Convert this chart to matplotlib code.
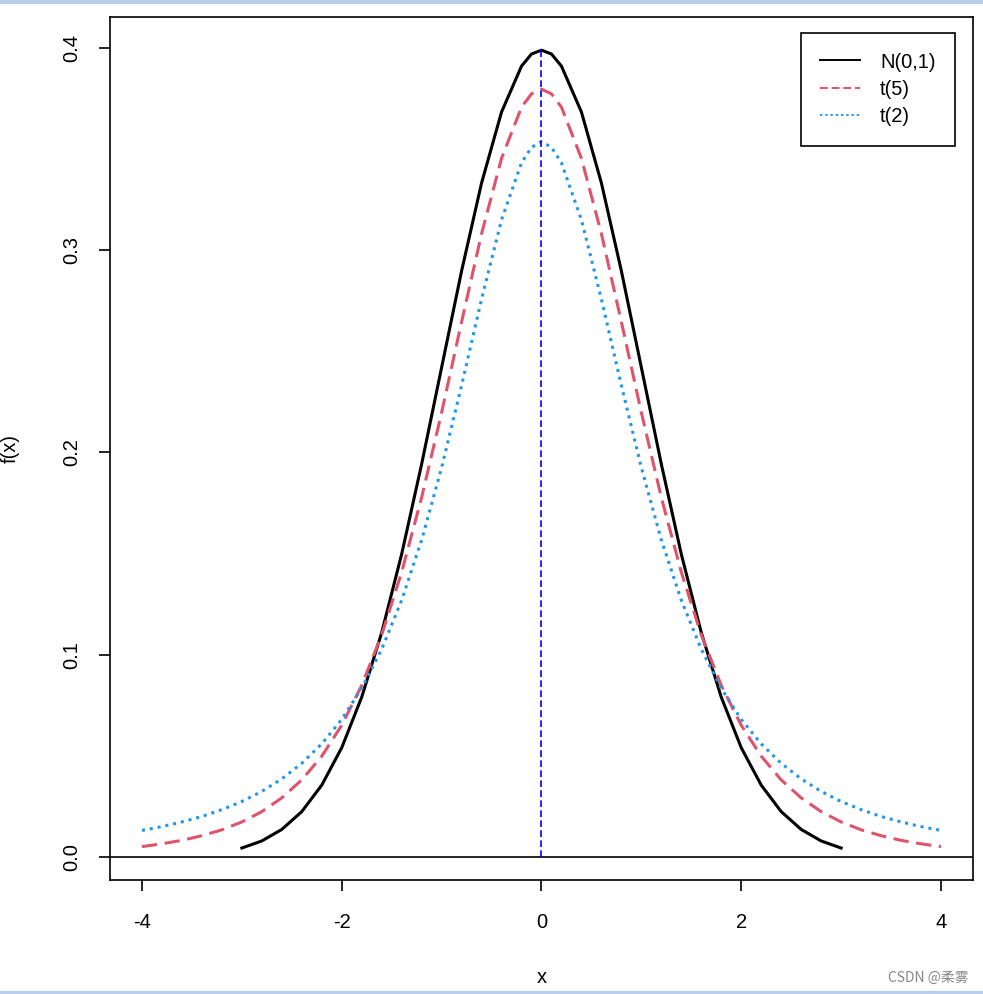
import numpy as np
import matplotlib.pyplot as plt
from matplotlib.lines import Line2D

plt.rcParams['font.family'] = ['Liberation Sans', 'DejaVu Sans']

# density values
x_norm = [-3.0, -2.8, -2.6, -2.4, -2.2, -2.0, -1.8, -1.6, -1.4, -1.2, -1.0, -0.8, -0.6, -0.4, -0.2, -0.1,
          0.0, 0.1, 0.2, 0.4, 0.6, 0.8, 1.0, 1.2, 1.4, 1.6, 1.8, 2.0, 2.2, 2.4, 2.6, 2.8, 3.0]
y_norm = [0.0044, 0.0079, 0.0136, 0.0224, 0.0355, 0.0540, 0.0790, 0.1109, 0.1497, 0.1942, 0.2420,
          0.2897, 0.3332, 0.3683, 0.3910, 0.3970, 0.3989, 0.3970, 0.3910, 0.3683, 0.3332, 0.2897,
          0.2420, 0.1942, 0.1497, 0.1109, 0.0790, 0.0540, 0.0355, 0.0224, 0.0136, 0.0079, 0.0044]

x_t = [-4.0, -3.8, -3.6, -3.4, -3.2, -3.0, -2.8, -2.6, -2.4, -2.2, -2.0, -1.8, -1.6, -1.4, -1.2,
       -1.0, -0.8, -0.6, -0.4, -0.2, -0.1, 0.0, 0.1, 0.2, 0.4, 0.6, 0.8, 1.0, 1.2, 1.4, 1.6, 1.8, 2.0,
       2.2, 2.4, 2.6, 2.8, 3.0, 3.2, 3.4, 3.6, 3.8, 4.0]
y_t5 = [0.0051, 0.0065, 0.0082, 0.0105, 0.0134, 0.0173, 0.0224, 0.0292, 0.0381, 0.0498, 0.0651,
        0.0848, 0.1098, 0.1408, 0.1777, 0.2197, 0.2645, 0.3081, 0.3454, 0.3707, 0.3773, 0.3796,
        0.3773, 0.3707, 0.3454, 0.3081, 0.2645, 0.2197, 0.1777, 0.1408, 0.1098, 0.0848, 0.0651,
        0.0498, 0.0381, 0.0292, 0.0224, 0.0173, 0.0134, 0.0105, 0.0082, 0.0065, 0.0051]
y_t2 = [0.0131, 0.0150, 0.0173, 0.0200, 0.0234, 0.0274, 0.0324, 0.0386, 0.0463, 0.0559, 0.0680,
        0.0834, 0.1027, 0.1269, 0.1567, 0.1925, 0.2331, 0.2758, 0.3150, 0.3432, 0.3509, 0.3536,
        0.3509, 0.3432, 0.3150, 0.2758, 0.2331, 0.1925, 0.1567, 0.1269, 0.1027, 0.0834, 0.0680,
        0.0559, 0.0463, 0.0386, 0.0324, 0.0274, 0.0234, 0.0200, 0.0173, 0.0150, 0.0131]

labels = ["N(0,1)", "t(5)", "t(2)"]
colors = ["black", "#DF536B", "#2297E6"]

fig = plt.figure(figsize=(9.83, 9.94), dpi=100)
ax = fig.add_axes([0.1119, 0.1147, 0.8779, 0.8682])

ax.plot(x_norm, y_norm, color=colors[0], lw=2.2)
ax.plot(x_t, y_t5, color=colors[1], lw=2.2, dashes=(5, 2.5))
ax.plot(x_t, y_t2, color=colors[2], lw=2.2, dashes=(1, 1.6))
ax.axhline(0, color="black", lw=1.2)
ax.plot([0, 0], [0, max(y_norm)], color="blue", lw=1.2, dashes=(4, 2))

ax.set_xlim(-4.32, 4.32)
ax.set_ylim(-0.0114, 0.4153)
ax.set_xticks([-4, -2, 0, 2, 4])
ax.set_xticklabels(["-4", "-2", "0", "2", "4"])
ax.set_yticks([0.0, 0.1, 0.2, 0.3, 0.4])
ax.set_yticklabels(["0.0", "0.1", "0.2", "0.3", "0.4"], rotation=90, va="center")
ax.tick_params(labelsize=14.5, length=8, width=1.2, pad=16, direction="out")
ax.tick_params(axis="y", pad=13)
for s in ax.spines.values():
    s.set_linewidth(1.2)
ax.set_xlabel("x", fontsize=14.5, labelpad=26)
ax.set_ylabel("f(x)", fontsize=14.5, labelpad=30)

handles = [Line2D([], [], color=colors[0], lw=1.4),
           Line2D([], [], color=colors[1], lw=1.4, dashes=(4, 2)),
           Line2D([], [], color=colors[2], lw=1.4, dashes=(1.2, 1.5))]
leg = ax.legend(handles, labels, loc="upper right", bbox_to_anchor=(0.979, 0.981),
                fontsize=14.5, fancybox=False, framealpha=1, edgecolor="black",
                handlelength=2.0, handletextpad=1.0, labelspacing=0.42,
                borderpad=0.95, borderaxespad=0)
leg.get_frame().set_linewidth(1.2)

# screenshot frame and watermark
fig.add_artist(plt.Rectangle((0, 0.997), 1, 0.003, transform=fig.transFigure, color="#b8d0ea"))
fig.add_artist(plt.Rectangle((0, 0), 1, 0.003, transform=fig.transFigure, color="#b8d0ea"))
fig.text(0.985, 0.016, "CSDN @柔雾", ha="right", va="center", fontsize=10, color="#888888",
         family=["Noto Sans CJK SC", "DejaVu Sans"])

fig.savefig("out.png", dpi=100)
